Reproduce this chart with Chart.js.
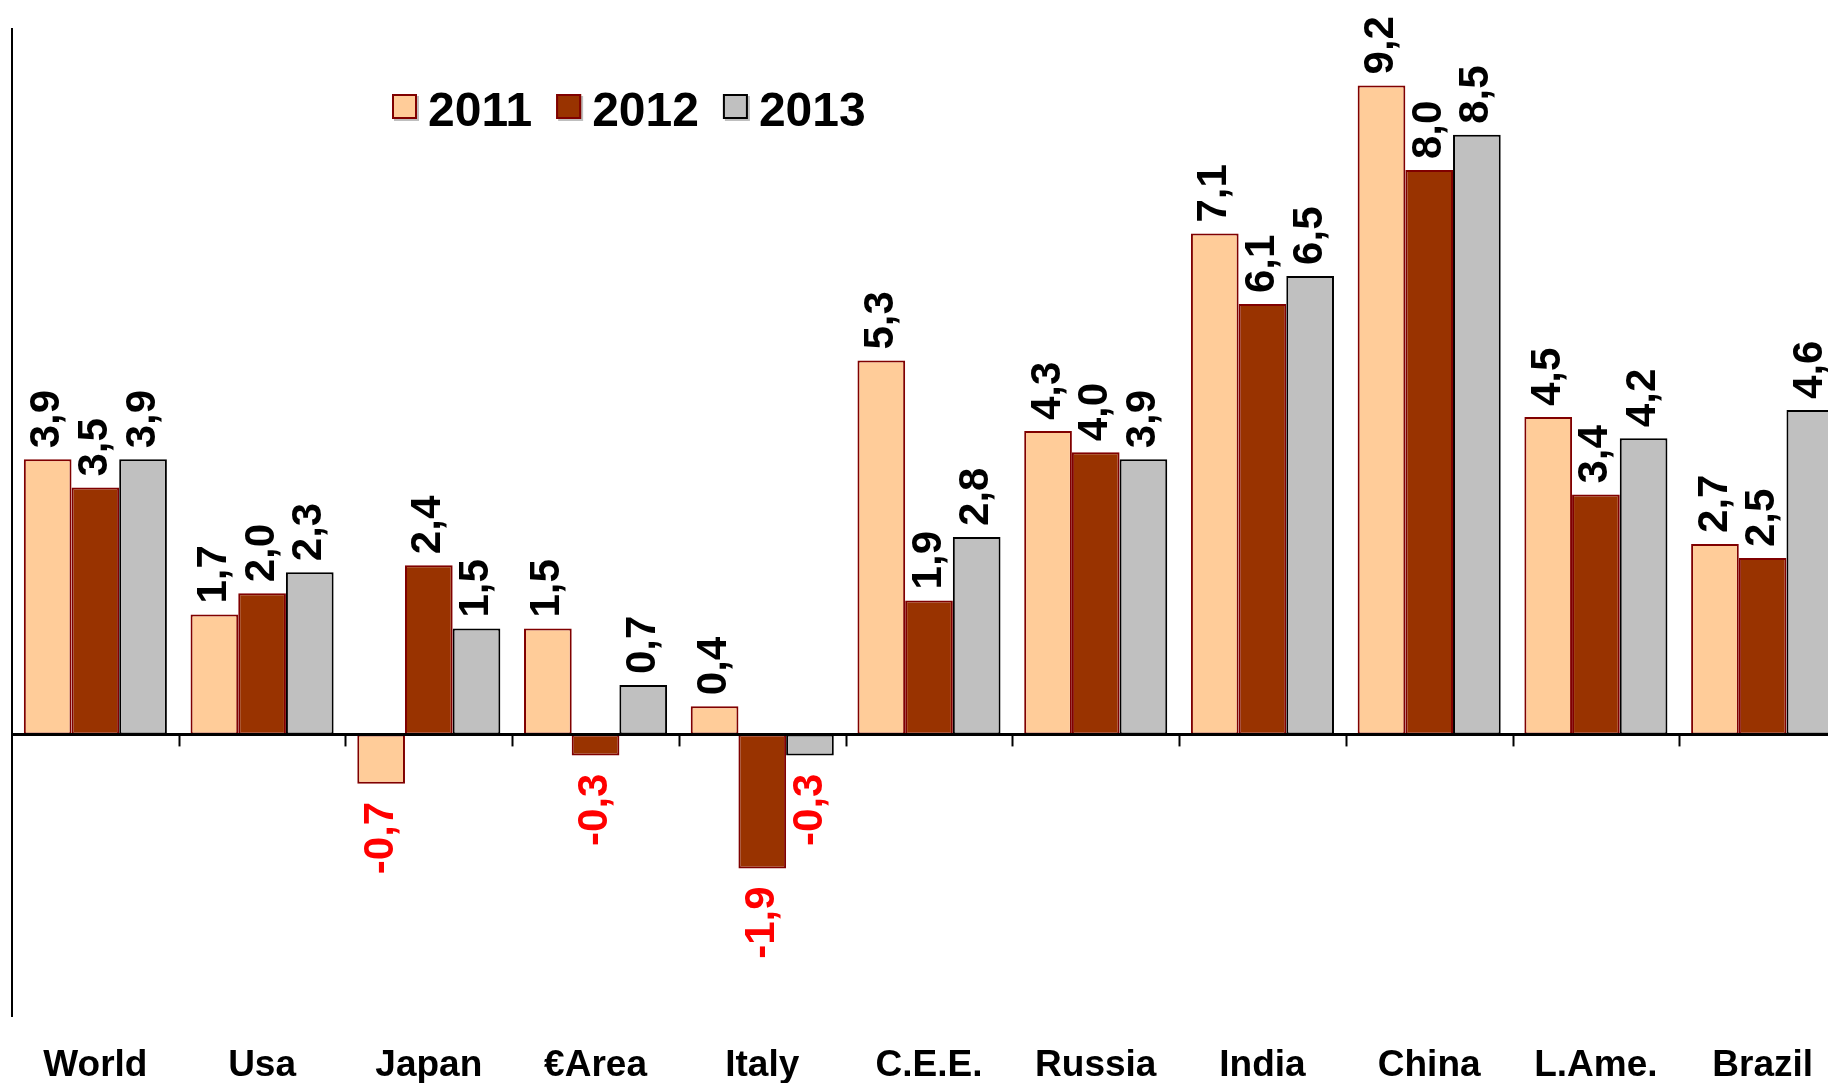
<!DOCTYPE html>
<html>
<head>
<meta charset="utf-8">
<title>GDP growth 2011-2013</title>
<script src="https://cdn.jsdelivr.net/npm/chart.js@4.4.0/dist/chart.umd.min.js"></script>
<style>
  html, body { margin: 0; padding: 0; background: #fff; overflow: hidden; }
  #wrap { width: 1828px; height: 1083px; overflow: hidden; }
</style>
</head>
<body>
<div id="wrap"><canvas id="growthChart" width="1860" height="1115"></canvas></div>
<script>
const categories = ['World', 'Usa', 'Japan', '€Area', 'Italy', 'C.E.E.', 'Russia', 'India', 'China', 'L.Ame.', 'Brazil'];
const seriesLabels = ['2011', '2012', '2013'];
const values2011 = [3.9, 1.7, -0.7, 1.5, 0.4, 5.3, 4.3, 7.1, 9.2, 4.5, 2.7];
const values2012 = [3.5, 2.0, 2.4, -0.3, -1.9, 1.9, 4.0, 6.1, 8.0, 3.4, 2.5];
const values2013 = [3.9, 2.3, 1.5, 0.7, -0.3, 2.8, 3.9, 6.5, 8.5, 4.2, 4.6];
const fillColors = ['#FFCC99', '#993300', '#C0C0C0'];
const borderColors = ['#800000', '#800000', '#000000'];

const FONT = '"Liberation Sans", Arial, sans-serif';

function formatValue(v) {
  return v.toFixed(1).replace('.', ',');
}

const valueLabels = {
  id: 'valueLabels',
  afterDatasetsDraw(chart) {
    const ctx = chart.ctx;
    chart.data.datasets.forEach((ds, di) => {
      const meta = chart.getDatasetMeta(di);
      meta.data.forEach((bar, i) => {
        const v = ds.data[i];
        ctx.save();
        ctx.font = 'bold 42px ' + FONT;
        ctx.textBaseline = 'middle';
        if (v >= 0) {
          ctx.translate(bar.x, bar.y - 11);
          ctx.textAlign = 'left';
          ctx.fillStyle = '#000';
        } else {
          ctx.translate(bar.x, bar.y + 18);
          ctx.textAlign = 'right';
          ctx.fillStyle = '#FF0000';
        }
        ctx.rotate(-Math.PI / 2);
        ctx.fillText(formatValue(v), 0, 0);
        ctx.restore();
      });
    });
  }
};

const zeroTicks = {
  id: 'zeroTicks',
  afterDatasetsDraw(chart) {
    const ctx = chart.ctx;
    const x = chart.scales.x;
    const y0 = chart.scales.y.getPixelForValue(0);
    const half = (x.getPixelForValue(1) - x.getPixelForValue(0)) / 2;
    ctx.save();
    ctx.strokeStyle = '#000';
    ctx.lineWidth = 3;
    ctx.beginPath();
    ctx.moveTo(chart.chartArea.left, y0);
    ctx.lineTo(chart.chartArea.right, y0);
    ctx.stroke();
    ctx.lineWidth = 2;
    for (let i = 1; i < categories.length; i++) {
      const px = Math.round(x.getPixelForValue(i) - half) + 0.5;
      ctx.beginPath();
      ctx.moveTo(px, y0);
      ctx.lineTo(px, y0 + 12);
      ctx.stroke();
    }
    ctx.restore();
  }
};

const insideLegend = {
  id: 'insideLegend',
  afterDraw(chart) {
    const ctx = chart.ctx;
    let bx = 392;
    ctx.save();
    ctx.font = 'bold 48px ' + FONT;
    ctx.textBaseline = 'alphabetic';
    chart.data.datasets.forEach(ds => {
      ctx.fillStyle = 'rgba(0,0,0,0.25)';
      ctx.fillRect(bx + 2, 96, 25, 25);
      ctx.fillStyle = ds.backgroundColor;
      ctx.fillRect(bx, 94, 25, 25);
      ctx.strokeStyle = ds.borderColor;
      ctx.lineWidth = 2;
      ctx.strokeRect(bx + 1, 95, 23, 23);
      ctx.fillStyle = '#000';
      ctx.fillText(ds.label, bx + 36, 126);
      bx += 36 + ctx.measureText(ds.label).width + 24;
    });
    ctx.restore();
  }
};

const allValues = [values2011, values2012, values2013];

new Chart(document.getElementById('growthChart'), {
  type: 'bar',
  data: {
    labels: categories,
    datasets: seriesLabels.map((label, i) => ({
      label,
      data: allValues[i],
      backgroundColor: fillColors[i],
      borderColor: borderColors[i],
      borderWidth: 2,
      borderSkipped: false,
      categoryPercentage: 0.858,
      barPercentage: 1.0
    }))
  },
  options: {
    responsive: false,
    animation: false,
    devicePixelRatio: 1,
    layout: { padding: { left: 12, right: 14, top: 29, bottom: 0 } },
    plugins: {
      legend: { display: false },
      tooltip: { enabled: false }
    },
    scales: {
      x: {
        grid: { display: false, drawTicks: false },
        border: { display: false },
        ticks: {
          color: '#000',
          padding: 27,
          font: { family: FONT, size: 37, weight: 'bold' },
          maxRotation: 0,
          autoSkip: false
        }
      },
      y: {
        min: -4,
        max: 10,
        ticks: { display: false, stepSize: 2 },
        grid: { display: false, drawTicks: false },
        border: { display: true, color: '#000', width: 2 }
      }
    }
  },
  plugins: [zeroTicks, valueLabels, insideLegend]
});
</script>
</body>
</html>
